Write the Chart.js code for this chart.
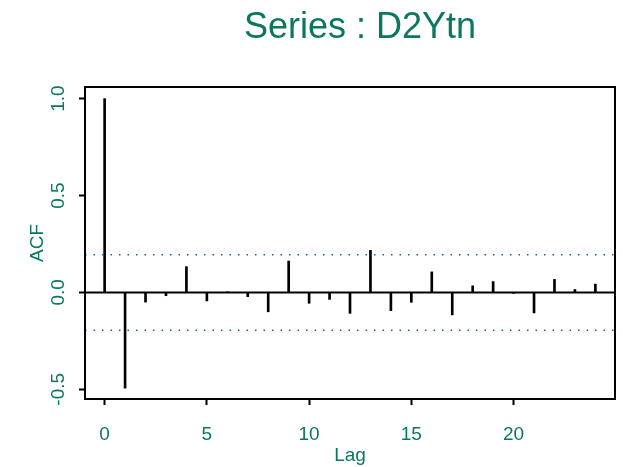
<!doctype html>
<html lang="en">
  <head>
    <meta charset="UTF-8" />
    <title>Series : D2Ytn</title>
    <script src="https://cdn.jsdelivr.net/npm/chart.js@4.4.0/dist/chart.umd.min.js"></script>
    <style>
      body {
        margin: 0;
        background: #ffffff;
      }
    </style>
  </head>
  <body>
    <canvas id="acf-chart" width="623" height="467"></canvas>
    <script>
      // autocorrelation of D2Ytn, lags 0..24
      const lags = [0, 1, 2, 3, 4, 5, 6, 7, 8, 9, 10, 11, 12, 13, 14, 15, 16, 17, 18, 19, 20, 21, 22, 23, 24];
      const acf = [1.0, -0.494, -0.05, -0.017, 0.133, -0.044, 0.003, -0.022, -0.1, 0.162, -0.056, -0.036, -0.108,
        0.217, -0.094, -0.051, 0.106, -0.116, 0.034, 0.056, -0.005, -0.106, 0.067, 0.015, 0.043];
      const ciBound = 0.195;
      const xRange = [-0.96, 24.96];
      const yRange = [-0.55, 1.06];
      const xTicks = [0, 5, 10, 15, 20];
      const yTicks = [-0.5, 0, 0.5, 1.0];

      const teal = "#0a7760";
      const fontFamily = "'Liberation Sans', Arial, sans-serif";

      // frame round the plot region plus the main title
      const framePlugin = {
        id: "frame",
        afterDraw(chart) {
          const { ctx, chartArea: a } = chart;
          ctx.save();
          ctx.strokeStyle = "#000";
          ctx.lineWidth = 2;
          ctx.strokeRect(a.left, a.top, a.right - a.left, a.bottom - a.top);
          ctx.fillStyle = teal;
          ctx.font = "36px " + fontFamily;
          ctx.textAlign = "center";
          ctx.textBaseline = "alphabetic";
          ctx.fillText("Series : D2Ytn", (a.left + a.right) / 2 + 10, 38);
          ctx.restore();
        },
      };

      const hLine = (y) => [
        { x: xRange[0], y: y },
        { x: xRange[1], y: y },
      ];

      new Chart(document.getElementById("acf-chart"), {
        type: "bar",
        data: {
          datasets: [
            {
              type: "line",
              data: hLine(0),
              borderColor: "#000",
              borderWidth: 2,
              pointRadius: 0,
            },
            {
              type: "line",
              data: hLine(ciBound),
              borderColor: "#1c5fa8",
              borderWidth: 1.5,
              borderDash: [1.5, 7],
              pointRadius: 0,
            },
            {
              type: "line",
              data: hLine(-ciBound),
              borderColor: "#1c5fa8",
              borderWidth: 1.5,
              borderDash: [1.5, 7],
              pointRadius: 0,
            },
            {
              data: lags.map((l, i) => ({ x: l, y: acf[i] })),
              backgroundColor: "#000",
              barThickness: 2,
            },
          ],
        },
        options: {
          responsive: false,
          animation: false,
          layout: { padding: { top: 87, right: 8, left: 0, bottom: 0 } },
          plugins: { legend: { display: false }, tooltip: { enabled: false } },
          scales: {
            x: {
              type: "linear",
              min: xRange[0],
              max: xRange[1],
              offset: false,
              afterBuildTicks: (s) => {
                s.ticks = xTicks.map((v) => ({ value: v }));
              },
              afterFit: (s) => {
                s.height = 68;
              },
              border: { display: false },
              grid: {
                offset: false,
                drawOnChartArea: false,
                tickLength: 6,
                tickWidth: 2,
                tickColor: "#000",
              },
              ticks: {
                color: teal,
                font: { family: fontFamily, size: 19 },
                padding: 18,
                maxRotation: 0,
                autoSkip: false,
              },
              title: {
                display: true,
                text: "Lag",
                color: teal,
                font: { family: fontFamily, size: 19 },
                padding: { top: 0, bottom: 0 },
              },
            },
            y: {
              min: yRange[0],
              max: yRange[1],
              afterBuildTicks: (s) => {
                s.ticks = yTicks.map((v) => ({ value: v }));
              },
              afterFit: (s) => {
                s.width = 85;
              },
              border: { display: false },
              grid: {
                drawOnChartArea: false,
                tickLength: 6,
                tickWidth: 2,
                tickColor: "#000",
              },
              ticks: {
                color: teal,
                font: { family: fontFamily, size: 19 },
                padding: 4,
                minRotation: 90,
                crossAlign: "center",
                callback: (v) => v.toFixed(1),
              },
              title: {
                display: true,
                text: "ACF",
                color: teal,
                font: { family: fontFamily, size: 19 },
                padding: { top: 26, bottom: 0 },
              },
            },
          },
        },
        plugins: [framePlugin],
      });
    </script>
  </body>
</html>
